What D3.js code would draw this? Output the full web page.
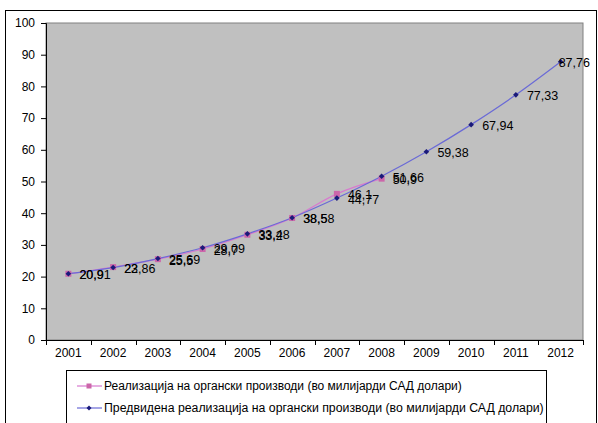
<!DOCTYPE html>
<html>
<head>
<meta charset="utf-8">
<script src="https://cdn.jsdelivr.net/npm/d3@7"></script>
<style>
  html, body { margin: 0; padding: 0; background: #fff; }
  svg { display: block; font-family: "Liberation Sans", Arial, sans-serif; }
</style>
</head>
<body>
<svg id="chart" width="598" height="423"></svg>
<script>
const years = ["2001","2002","2003","2004","2005","2006","2007","2008","2009","2010","2011","2012"];
const actualYears = ["2001","2002","2003","2004","2005","2006","2007","2008"];
const actualValues = [20.9, 23, 25.5, 28.7, 33.2, 38.5, 46.1, 50.9];
const predictedValues = [20.91, 22.86, 25.69, 29.09, 33.48, 38.58, 44.77, 51.66, 59.38, 67.94, 77.33, 87.76];
const yTicks = [0, 10, 20, 30, 40, 50, 60, 70, 80, 90, 100];
const seriesNames = [
  "Реализација на органски производи (во милијарди САД долари)",
  "Предвидена реализација на органски производи (во милијарди САД долари)"
];

const svg = d3.select("#chart");
const pLeft = 46, pRight = 583, pTop = 23, pBottom = 340;

// outer border
svg.append("rect").attr("x", 5.5).attr("y", 10.5).attr("width", 591).attr("height", 430)
  .attr("fill", "#fff").attr("stroke", "#000").attr("stroke-width", 1);

const x = d3.scaleBand().domain(years).range([pLeft, pRight]).padding(0);
const y = d3.scaleLinear().domain([0, 100]).range([pBottom, pTop]);

// plot area
svg.append("rect").attr("x", pLeft).attr("y", pTop).attr("width", pRight - pLeft).attr("height", pBottom - pTop)
  .attr("fill", "#c0c0c0").attr("stroke", "#808080").attr("stroke-width", 1);

// y axis
const yAxis = svg.append("g").attr("transform", `translate(${pLeft},0)`)
  .call(d3.axisLeft(y).tickValues(yTicks).tickSize(5).tickPadding(6).tickFormat(d3.format("d")));
yAxis.select(".domain").attr("stroke", "#000");
yAxis.selectAll("text").attr("font-size", 12).attr("fill", "#000").attr("font-family", "Liberation Sans, Arial, sans-serif");

// x axis with ticks between categories
const xAxisG = svg.append("g").attr("transform", `translate(0,${pBottom})`);
xAxisG.append("line").attr("x1", pLeft).attr("x2", pRight).attr("y1", 0.5).attr("y2", 0.5).attr("stroke", "#000");
const boundaries = years.map(d => x(d)).concat([x(years[years.length - 1]) + x.bandwidth()]);
xAxisG.selectAll("line.tk").data(boundaries).join("line").attr("class", "tk")
  .attr("x1", d => Math.round(d) + 0.5).attr("x2", d => Math.round(d) + 0.5)
  .attr("y1", 0).attr("y2", 5).attr("stroke", "#000");
xAxisG.selectAll("text").data(years).join("text")
  .attr("x", d => x(d) + x.bandwidth() / 2).attr("y", 17)
  .attr("text-anchor", "middle").attr("font-size", 12).attr("fill", "#000").text(d => d);

const cx = d => x(d) + x.bandwidth() / 2;
const line = d3.line().x(d => cx(d[0])).y(d => y(d[1])).curve(d3.curveCatmullRom.alpha(0));

const actual = actualYears.map((d, i) => [d, actualValues[i]]);
const predicted = years.map((d, i) => [d, predictedValues[i]]);

const pinkLine = "#d879cf", pinkMark = "#cc66aa";
const blueLine = "#6a6ad6", blueMark = "#1a1a7a";

svg.append("path").datum(actual).attr("d", line).attr("fill", "none").attr("stroke", pinkLine).attr("stroke-width", 1.2);
svg.append("path").datum(predicted).attr("d", line).attr("fill", "none").attr("stroke", blueLine).attr("stroke-width", 1.2);

svg.selectAll("rect.sq").data(actual).join("rect").attr("class", "sq")
  .attr("x", d => cx(d[0]) - 3).attr("y", d => y(d[1]) - 3).attr("width", 6).attr("height", 6)
  .attr("fill", pinkMark);
const diamond = d3.symbol().type(d3.symbolDiamond2).size(20);
svg.selectAll("path.dm").data(predicted).join("path").attr("class", "dm")
  .attr("transform", d => `translate(${cx(d[0])},${y(d[1])})`).attr("d", diamond).attr("fill", blueMark);

const fmt = v => String(v).replace(".", ",");
const lastYear = years[years.length - 1];
const drawLabels = (data) => svg.append("g").selectAll("text").data(data).join("text")
  .attr("x", d => d[0] === lastYear ? cx(d[0]) - 2 : cx(d[0]) + 11)
  .attr("y", d => y(d[1]) + 5.5)
  .attr("font-size", 12.5).attr("fill", "#000").text(d => fmt(d[1]));
drawLabels(predicted);
drawLabels(actual);

// legend
svg.append("rect").attr("x", 66.5).attr("y", 370.5).attr("width", 480).attr("height", 70)
  .attr("fill", "#fff").attr("stroke", "#000").attr("stroke-width", 1);
const legendRows = [
  { name: seriesNames[0], line: pinkLine, mark: pinkMark, shape: "sq", yy: 386, fs: 12 },
  { name: seriesNames[1], line: blueLine, mark: blueMark, shape: "dm", yy: 408, fs: 12.3 }
];
legendRows.forEach(r => {
  svg.append("line").attr("x1", 77).attr("x2", 102).attr("y1", r.yy).attr("y2", r.yy).attr("stroke", r.line).attr("stroke-width", 1.2);
  if (r.shape === "sq") {
    svg.append("rect").attr("x", 86.5).attr("y", r.yy - 2.5).attr("width", 5).attr("height", 5).attr("fill", r.mark);
  } else {
    svg.append("path").attr("transform", `translate(89,${r.yy})`).attr("d", d3.symbol().type(d3.symbolDiamond2).size(16)).attr("fill", r.mark);
  }
  svg.append("text").attr("x", 104).attr("y", r.yy + 4).attr("font-size", r.fs).attr("fill", "#000").text(r.name);
});
</script>
</body>
</html>
